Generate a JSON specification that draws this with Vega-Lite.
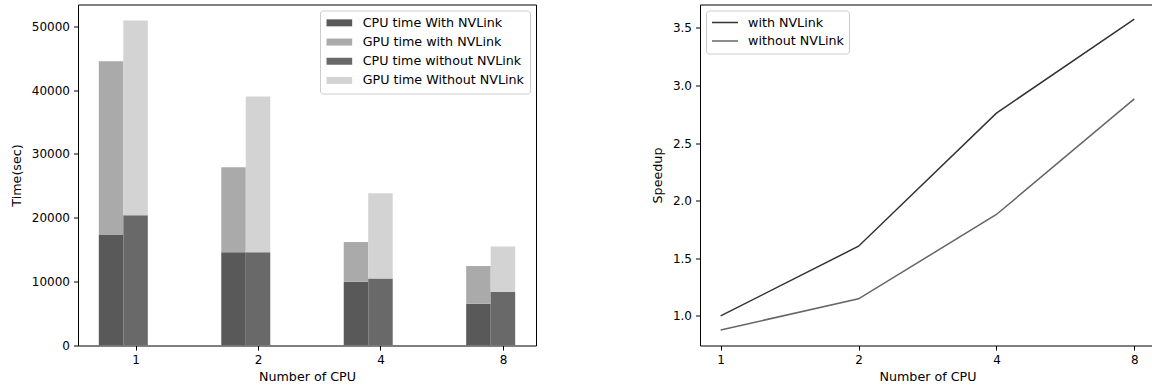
{
  "$schema": "https://vega.github.io/schema/vega-lite/v6.json",
  "background": "white",
  "padding": {"left": 9, "top": 3.5, "right": 0, "bottom": 0},
  "spacing": 113,
  "resolve": {"scale": {"color": "independent"}, "legend": {"color": "independent"}},
  "config": {
    "font": "DejaVu Sans",
    "view": {"stroke": "#000", "strokeWidth": 1},
    "axis": {
      "domain": false, "grid": false, "tickColor": "#000", "tickSize": 4.5, "labelPadding": 4,
      "labelFontSize": 12, "titleFontSize": 12.7, "titleFontWeight": "normal",
      "labelColor": "#000", "titleColor": "#000", "labelFont": "DejaVu Sans", "titleFont": "DejaVu Sans"
    },
    "legend": {"labelFontSize": 12.7, "labelFont": "DejaVu Sans", "labelColor": "#000", "title": null, "labelLimit": 400}
  },
  "hconcat": [
    {
      "width": 458,
      "height": 341,
      "data": {"values": [
        {"cpu": "1", "link": "with", "part": "CPU", "series": "CPU time With NVLink", "time": 17400},
        {"cpu": "1", "link": "with", "part": "GPU", "series": "GPU time with NVLink", "time": 27100},
        {"cpu": "1", "link": "without", "part": "CPU", "series": "CPU time without NVLink", "time": 20400},
        {"cpu": "1", "link": "without", "part": "GPU", "series": "GPU time Without NVLink", "time": 30500},
        {"cpu": "2", "link": "with", "part": "CPU", "series": "CPU time With NVLink", "time": 14600},
        {"cpu": "2", "link": "with", "part": "GPU", "series": "GPU time with NVLink", "time": 13300},
        {"cpu": "2", "link": "without", "part": "CPU", "series": "CPU time without NVLink", "time": 14600},
        {"cpu": "2", "link": "without", "part": "GPU", "series": "GPU time Without NVLink", "time": 24400},
        {"cpu": "4", "link": "with", "part": "CPU", "series": "CPU time With NVLink", "time": 10000},
        {"cpu": "4", "link": "with", "part": "GPU", "series": "GPU time with NVLink", "time": 6200},
        {"cpu": "4", "link": "without", "part": "CPU", "series": "CPU time without NVLink", "time": 10500},
        {"cpu": "4", "link": "without", "part": "GPU", "series": "GPU time Without NVLink", "time": 13350},
        {"cpu": "8", "link": "with", "part": "CPU", "series": "CPU time With NVLink", "time": 6550},
        {"cpu": "8", "link": "with", "part": "GPU", "series": "GPU time with NVLink", "time": 5900},
        {"cpu": "8", "link": "without", "part": "CPU", "series": "CPU time without NVLink", "time": 8400},
        {"cpu": "8", "link": "without", "part": "GPU", "series": "GPU time Without NVLink", "time": 7100}
      ]},
      "mark": {"type": "bar", "clip": true},
      "encoding": {
        "x": {
          "field": "cpu", "type": "ordinal", "sort": ["1", "2", "4", "8"],
          "scale": {"paddingInner": 0.6, "paddingOuter": 0.17},
          "axis": {"labelAngle": 0, "title": "Number of CPU", "titlePadding": 5, "tickOffset": 12.25}
        },
        "xOffset": {"field": "link", "type": "nominal", "scale": {"domain": ["with", "without"], "paddingInner": 0, "paddingOuter": 0}},
        "y": {
          "field": "time", "type": "quantitative", "stack": "zero",
          "scale": {"domain": [0, 53400], "nice": false},
          "axis": {"values": [0, 10000, 20000, 30000, 40000, 50000], "format": "d", "title": "Time(sec)", "titlePadding": 8}
        },
        "order": {"field": "part", "type": "ordinal"},
        "color": {
          "field": "series", "type": "nominal",
          "scale": {
            "domain": ["CPU time With NVLink", "GPU time with NVLink", "CPU time without NVLink", "GPU time Without NVLink"],
            "range": ["#595959", "#aaaaaa", "#696969", "#d3d3d3"]
          },
          "legend": {
            "orient": "top-right", "offset": 6, "padding": 6, "rowPadding": 5.2,
            "fillColor": "white", "strokeColor": "#cccccc", "cornerRadius": 3,
            "symbolType": "M-2.14,-0.583H2.14V0.583H-2.14Z", "symbolSize": 144, "symbolStrokeWidth": 0, "symbolOpacity": 1,
            "symbolOffset": 7, "labelOffset": 17
          }
        }
      }
    },
    {
      "width": 455,
      "height": 341,
      "data": {"values": [
        {"cpu": "1", "series": "with NVLink", "speedup": 1.0},
        {"cpu": "2", "series": "with NVLink", "speedup": 1.605},
        {"cpu": "4", "series": "with NVLink", "speedup": 2.76},
        {"cpu": "8", "series": "with NVLink", "speedup": 3.576},
        {"cpu": "1", "series": "without NVLink", "speedup": 0.878},
        {"cpu": "2", "series": "without NVLink", "speedup": 1.148},
        {"cpu": "4", "series": "without NVLink", "speedup": 1.88},
        {"cpu": "8", "series": "without NVLink", "speedup": 2.883}
      ]},
      "mark": {"type": "line", "strokeWidth": 1.5, "clip": true},
      "encoding": {
        "x": {
          "field": "cpu", "type": "ordinal", "sort": ["1", "2", "4", "8"],
          "scale": {"type": "point", "padding": 0.15},
          "axis": {"labelAngle": 0, "title": "Number of CPU", "titlePadding": 5}
        },
        "y": {
          "field": "speedup", "type": "quantitative",
          "scale": {"domain": [0.743, 3.7025], "nice": false, "zero": false},
          "axis": {"values": [1, 1.5, 2, 2.5, 3, 3.5], "format": ".1f", "title": "Speedup", "titlePadding": 8}
        },
        "color": {
          "field": "series", "type": "nominal",
          "scale": {"domain": ["with NVLink", "without NVLink"], "range": ["#333333", "#666666"]},
          "legend": {
            "orient": "top-left", "offset": 6, "padding": 5, "rowPadding": 4.5,
            "fillColor": "white", "strokeColor": "#cccccc", "cornerRadius": 3,
            "symbolType": "M-2.17,0H2.17", "symbolSize": 144, "symbolStrokeWidth": 1.5,
            "symbolOffset": 7, "labelOffset": 16
          }
        }
      }
    }
  ]
}
